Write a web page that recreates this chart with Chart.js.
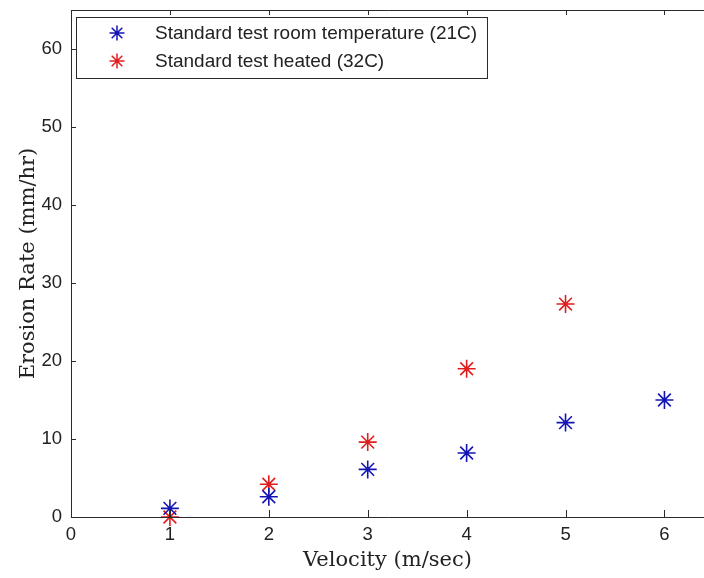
<!DOCTYPE html>
<html>
<head>
<meta charset="utf-8">
<script src="https://cdn.jsdelivr.net/npm/chart.js@4/dist/chart.umd.min.js"></script>
<style>
  html, body { margin: 0; padding: 0; background: #fff; }
  #wrap { width: 704px; height: 578px; }
</style>
</head>
<body>
<div id="wrap"><canvas id="erosionChart" width="704" height="578"></canvas></div>
<script>
(function () {
  'use strict';

  /* values */
  var VELOCITY_ROOM = [1, 2, 3, 4, 5, 6];
  var RATE_ROOM = [1.1, 2.6, 6.1, 8.2, 12.1, 15.0];
  var VELOCITY_HEATED = [1, 2, 3, 4, 5];
  var RATE_HEATED = [0, 4.2, 9.6, 19.0, 27.3];
  var LABELS = ['Standard test room temperature (21C)', 'Standard test heated (32C)'];
  var X_TICKS = [0, 1, 2, 3, 4, 5, 6];
  var Y_TICKS = [0, 10, 20, 30, 40, 50, 60];

  var BLUE = '#1414b4';
  var RED = '#e01e1e';
  var AXIS = '#2a2a2a';
  var SANS = "'Liberation Sans', Arial, sans-serif";
  var SERIF = "'DejaVu Serif', serif";

  function points(xs, ys) {
    return xs.map(function (x, i) { return { x: x, y: ys[i] }; });
  }

  // drop the label overhang padding so the plot box fills the canvas like the original
  function noOverhang(s) {
    s.paddingLeft = 0; s.paddingRight = 0; s.paddingTop = 0; s.paddingBottom = 0;
  }

  /* MATLAB-style frame: inward ticks, boxed legend in the upper left */
  var matlabFrame = {
    id: 'matlabFrame',
    afterDatasetsDraw: function (chart) {
      var ctx = chart.ctx, a = chart.chartArea;
      var xs = chart.scales.x, ys = chart.scales.y;
      ctx.save();
      ctx.strokeStyle = AXIS;
      ctx.lineWidth = 1;
      ctx.beginPath();
      ctx.moveTo(a.left + 0.5, a.top + 0.5);
      ctx.lineTo(a.right + 2, a.top + 0.5);
      ctx.moveTo(a.left + 0.5, a.top);
      ctx.lineTo(a.left + 0.5, a.bottom + 0.5);
      ctx.lineTo(a.right + 2, a.bottom + 0.5);
      X_TICKS.forEach(function (v) {
        var px = Math.round(xs.getPixelForValue(v)) + 0.5;
        ctx.moveTo(px, a.bottom);
        ctx.lineTo(px, a.bottom - 7);
        ctx.moveTo(px, a.top);
        ctx.lineTo(px, a.top + 5);
      });
      Y_TICKS.forEach(function (v) {
        var py = Math.round(ys.getPixelForValue(v)) + 0.5;
        ctx.moveTo(a.left, py);
        ctx.lineTo(a.left + 5, py);
      });
      ctx.stroke();

      // legend box
      var bx = 76.5, by = 17.5, bw = 411, bh = 61;
      ctx.fillStyle = '#fff';
      ctx.fillRect(bx, by, bw, bh);
      ctx.strokeRect(bx, by, bw, bh);
      var rows = [33, 61];
      chart.data.datasets.forEach(function (ds, i) {
        ctx.lineWidth = 1.5;
        ctx.strokeStyle = ds.borderColor;
        Chart.helpers.drawPoint(ctx, { pointStyle: 'star', radius: 7.5, rotation: 0, borderWidth: 1.5 }, 117, rows[i]);
        ctx.fillStyle = '#222';
        ctx.font = '19px ' + SANS;
        ctx.textBaseline = 'middle';
        ctx.textAlign = 'left';
        ctx.fillText(ds.label, 155, rows[i] + 1);
      });
      ctx.restore();
    }
  };

  new Chart(document.getElementById('erosionChart').getContext('2d'), {
    type: 'scatter',
    data: {
      datasets: [
        {
          label: LABELS[0],
          data: points(VELOCITY_ROOM, RATE_ROOM),
          pointStyle: 'star',
          pointRadius: 9,
          borderWidth: 1.6,
          borderColor: BLUE,
          backgroundColor: BLUE,
          clip: false
        },
        {
          label: LABELS[1],
          data: points(VELOCITY_HEATED, RATE_HEATED),
          pointStyle: 'star',
          pointRadius: 9,
          borderWidth: 1.6,
          borderColor: RED,
          backgroundColor: RED,
          clip: false
        }
      ]
    },
    options: {
      responsive: false,
      animation: false,
      layout: { autoPadding: false, padding: { top: 10, right: 0, left: 0, bottom: 0 } },
      plugins: { legend: { display: false }, tooltip: { enabled: false } },
      scales: {
        x: {
          type: 'linear',
          min: 0,
          max: 6.4,
          grid: { display: false, drawTicks: false },
          border: { display: false },
          ticks: {
            stepSize: 1,
            includeBounds: false,
            padding: 7,
            color: '#222',
            font: { family: SANS, size: 18.5 }
          },
          title: {
            display: true,
            text: 'Velocity (m/sec)',
            color: '#222',
            font: { family: SERIF, size: 21 },
            padding: { top: 0, bottom: 5 }
          },
          afterFit: function (s) { s.height = 61; noOverhang(s); }
        },
        y: {
          type: 'linear',
          min: 0,
          max: 65,
          grid: { display: false, drawTicks: false },
          border: { display: false },
          ticks: {
            stepSize: 10,
            includeBounds: false,
            padding: 9,
            color: '#222',
            font: { family: SANS, size: 18.5 }
          },
          title: {
            display: true,
            text: 'Erosion Rate (mm/hr)',
            color: '#222',
            font: { family: SERIF, size: 21 },
            padding: { top: 16, bottom: 0 }
          },
          afterFit: function (s) { s.width = 71; noOverhang(s); }
        }
      }
    },
    plugins: [matlabFrame]
  });
})();
</script>
</body>
</html>
